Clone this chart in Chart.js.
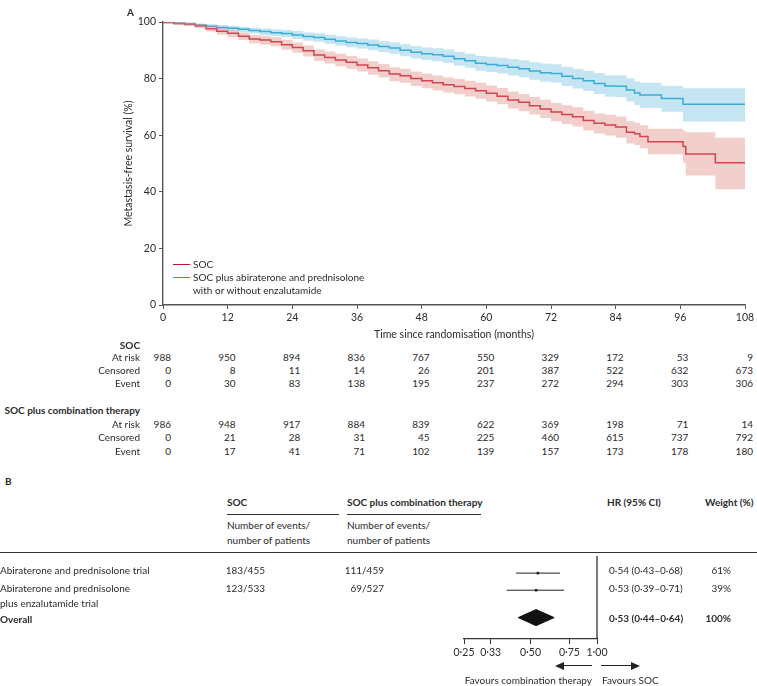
<!DOCTYPE html>
<html>
<head>
<meta charset="utf-8">
<script src="https://cdn.jsdelivr.net/npm/chart.js@4.4.1/dist/chart.umd.min.js"></script>
<style>
  body { margin: 0; background: #fff; }
  #wrap { position: relative; width: 757px; height: 686px; font-family: Lato, sans-serif; font-size: 10px; color: #2b2b2b; }
  #wrap canvas { position: absolute; left: 0; }
  .t { position: absolute; white-space: nowrap; line-height: 1; }
  .b { font-weight: bold; }
  .rule { position: absolute; height: 0; border-top: 1.2px solid #333; }
</style>
</head>
<body>
<div id="wrap">
  <canvas id="km" width="757" height="345" style="top:0"></canvas>
  <canvas id="forest" width="757" height="112" style="top:552px"></canvas>
</div>
<script>
// ---- panel A data ----
var months = [0,2,4,6,8,10,12,14,16,18,20,22,24,26,28,30,32,34,36,38,40,42,44,46,48,50,52,54,56,58,60,62,64,66,68,70,72,74,76,78,80,82,84,86,87.5,88.5,90,92.5,96.5,97,102.5,104.5,108];
var socSurv = [100,99.8,99.5,99.2,98.6,97.6,96.7,96.0,95.0,94.0,93.6,93.0,92.0,91.0,89.8,88.3,87.5,86.6,85.8,84.8,83.8,82.8,81.6,81.0,80.0,79.2,78.5,77.8,77.2,76.5,75.7,74.8,73.8,72.4,71.6,70.4,69.3,68.2,67.3,66.5,65.2,64.2,63.6,62.9,61.0,60.5,59.5,57.7,57.7,56.0,53.4,50.3,50.3];
var socLow = [100,99.5,99.0,98.5,97.8,96.6,95.5,94.7,93.6,92.5,92.0,91.3,90.2,89.1,87.8,86.2,85.3,84.4,83.5,82.5,81.4,80.4,79.1,78.5,77.4,76.6,75.8,75.1,74.5,73.7,72.9,71.9,70.9,69.4,68.5,67.3,66.1,64.9,64.0,63.1,61.7,60.6,59.9,59.1,57.1,56.5,55.4,53.3,53.3,50.3,45.8,40.9,40.9];
var socHigh = [100,100,99.9,99.8,99.3,98.6,97.8,97.2,96.3,95.4,95.1,94.6,93.7,92.8,91.7,90.3,89.6,88.8,88.0,87.1,86.1,85.2,84.0,83.5,82.5,81.8,81.1,80.4,79.9,79.2,78.5,77.6,76.7,75.4,74.6,73.5,72.5,71.4,70.6,69.9,68.6,67.7,67.2,66.6,64.9,64.4,63.5,62.3,62.3,61.6,61.0,59.1,59.1];
var comboSurv = [100,99.9,99.6,99.3,98.9,98.5,98.1,97.8,97.4,97.0,96.6,96.2,95.9,95.4,94.9,94.5,93.9,93.3,92.8,92.4,91.9,91.3,90.8,90.0,89.3,88.8,88.4,87.9,87.0,86.3,85.4,85.0,84.6,84.0,83.5,82.7,82.1,81.8,80.8,80.0,79.2,78.3,77.4,77.3,76.0,74.9,74.2,74.2,73.0,70.9,70.9,70.9,70.9];
var comboLow = [100,99.7,99.2,98.8,98.3,97.8,97.3,96.9,96.4,95.9,95.4,95.0,94.6,94.0,93.4,93.0,92.3,91.6,91.1,90.6,90.0,89.4,88.8,87.9,87.1,86.6,86.1,85.5,84.5,83.8,82.8,82.3,81.8,81.1,80.5,79.6,78.9,78.5,77.4,76.5,75.6,74.6,73.6,73.4,71.9,70.7,69.6,69.6,68.3,64.8,64.8,64.8,64.8];
var comboHigh = [100,100,100,99.8,99.5,99.2,98.9,98.6,98.3,98.0,97.7,97.4,97.2,96.8,96.3,96.0,95.5,95.0,94.5,94.2,93.8,93.2,92.8,92.1,91.5,91.0,90.7,90.3,89.5,88.8,88.0,87.7,87.4,86.9,86.5,85.8,85.3,85.1,84.2,83.5,82.8,82.0,81.2,81.2,80.1,79.1,78.5,78.5,77.5,76.6,76.6,76.6,76.6];

// risk table
var riskTimes = [0,12,24,36,48,60,72,84,96,108];
var socAtRisk = [988,950,894,836,767,550,329,172,53,9];
var socCensored = [0,8,11,14,26,201,387,522,632,673];
var socEvent = [0,30,83,138,195,237,272,294,303,306];
var comboAtRisk = [986,948,917,884,839,622,369,198,71,14];
var comboCensored = [0,21,28,31,45,225,460,615,737,792];
var comboEvent = [0,17,41,71,102,139,157,173,178,180];

// ---- panel B data ----
var trials = ['Abiraterone and prednisolone trial', 'Abiraterone and prednisolone\nplus enzalutamide trial'];
var socEvents = ['183/455', '123/533'];
var comboEvents = ['111/459', '69/527'];
var hr = [0.54, 0.53];
var hrLow = [0.43, 0.39];
var hrHigh = [0.68, 0.71];
var weights = ['61%', '39%'];
var overall = { hr: 0.53, low: 0.44, high: 0.64 };
var hrTicks = [0.25, 0.33, 0.5, 0.75, 1];
var rowPos = [1, 2, 3.6];

var red = '#c4122f';
var blue = '#17a2d3';
var axisColor = '#555';

Chart.defaults.font.family = 'Lato, sans-serif';
Chart.defaults.font.size = 10.5;
Chart.defaults.color = '#2b2b2b';

var wrap = document.getElementById('wrap');

function put(text, x, y, align, cls) {
  var d = document.createElement('div');
  d.className = 't' + (cls ? ' ' + cls : '');
  d.textContent = text;
  d.style.left = x + 'px';
  d.style.top = y + 'px';
  var tx = align === 'right' ? '-100%' : (align === 'center' ? '-50%' : '0');
  d.style.transform = 'translate(' + tx + ',-50%)';
  wrap.appendChild(d);
  return d;
}

function rule(x1, x2, y) {
  var d = document.createElement('div');
  d.className = 'rule';
  d.style.left = x1 + 'px';
  d.style.width = (x2 - x1) + 'px';
  d.style.top = y + 'px';
  wrap.appendChild(d);
}

function pts(ys) {
  return months.map(function(m, i) { return { x: m, y: ys[i] }; });
}

var kmChart = new Chart(document.getElementById('km'), {
  type: 'line',
  data: {
    datasets: [
      { data: pts(socHigh), fill: '+1', backgroundColor: 'rgba(226,140,130,0.42)', borderWidth: 0, pointRadius: 0, stepped: 'after' },
      { data: pts(socLow), fill: false, borderWidth: 0, pointRadius: 0, stepped: 'after' },
      { data: pts(comboHigh), fill: '+1', backgroundColor: 'rgba(110,190,225,0.4)', borderWidth: 0, pointRadius: 0, stepped: 'after' },
      { data: pts(comboLow), fill: false, borderWidth: 0, pointRadius: 0, stepped: 'after' },
      { data: pts(socSurv), borderColor: red, borderWidth: 1.5, pointRadius: 0, stepped: 'after', fill: false },
      { data: pts(comboSurv), borderColor: blue, borderWidth: 1.5, pointRadius: 0, stepped: 'after', fill: false }
    ]
  },
  options: {
    responsive: false,
    animation: false,
    layout: { padding: { left: 122, right: 12, top: 22, bottom: 0 } },
    plugins: { legend: { display: false }, tooltip: { enabled: false } },
    scales: {
      x: {
        type: 'linear', min: 0, max: 108,
        ticks: { stepSize: 12, padding: 2 },
        grid: { drawOnChartArea: false, tickLength: 4, color: axisColor },
        border: { color: axisColor, width: 1.4 },
        title: { display: true, text: 'Time since randomisation (months)', padding: { top: 2, bottom: 4 } },
        afterFit: function(s) { s.height = 40; }
      },
      y: {
        min: 0, max: 100,
        ticks: { stepSize: 20, padding: 3 },
        grid: { drawOnChartArea: false, tickLength: 4, color: axisColor },
        border: { color: axisColor, width: 1.4 },
        title: { display: true, text: 'Metastasis-free survival (%)', padding: { top: 0, bottom: 2 } },
        afterFit: function(s) { s.width = 41; }
      }
    }
  }
});

// panel labels and legend
put('A', 127, 12, 'left', 'b');
var lg = [[red, 'SOC', 264], [blue, 'SOC plus abiraterone and prednisolone', 277]];
lg.forEach(function(l) {
  var s = document.createElement('div');
  s.style.cssText = 'position:absolute;left:173px;width:17px;height:0;border-top:1.5px solid ' + l[0] + ';top:' + l[2] + 'px';
  wrap.appendChild(s);
  put(l[1], 193, l[2], 'left');
});
put('with or without enzalutamide', 193, 290, 'left');

// risk table under the x axis
var xs = kmChart.scales.x;
function riskRow(label, vals, y) {
  put(label, 140, y, 'right');
  vals.forEach(function(v, i) {
    put(String(v), xs.getPixelForValue(riskTimes[i]) + 8, y, 'right');
  });
}
put('SOC', 140, 345, 'right', 'b');
riskRow('At risk', socAtRisk, 357);
riskRow('Censored', socCensored, 370);
riskRow('Event', socEvent, 383);
put('SOC plus combination therapy', 140, 410, 'right', 'b');
riskRow('At risk', comboAtRisk, 424);
riskRow('Censored', comboCensored, 437);
riskRow('Event', comboEvent, 451);

// panel B table
put('B', 5, 481, 'left', 'b');
put('SOC', 227, 502, 'left', 'b');
rule(227, 339, 514);
put('Number of events/', 227, 525, 'left');
put('number of patients', 227, 540, 'left');
put('SOC plus combination therapy', 347, 502, 'left', 'b');
rule(347, 481, 514);
put('Number of events/', 347, 525, 'left');
put('number of patients', 347, 540, 'left');
put('HR (95% CI)', 607, 502, 'left', 'b');
put('Weight (%)', 705, 502, 'left', 'b');
rule(0, 757, 552);

function fmt(v) { return v.toFixed(2).replace('.', '\u00b7'); }

var rowY = [570, 588];
trials.forEach(function(name, i) {
  var lines = name.split('\n');
  lines.forEach(function(ln, j) { put(ln, 0, rowY[i] + j * 14.5, 'left'); });
  put(socEvents[i], 265, rowY[i], 'right');
  put(comboEvents[i], 384, rowY[i], 'right');
  put(fmt(hr[i]) + ' (' + fmt(hrLow[i]) + '\u2013' + fmt(hrHigh[i]) + ')', 609, rowY[i], 'left');
  put(weights[i], 731, rowY[i], 'right');
});
put('Overall', 0, 619, 'left', 'b');
put(fmt(overall.hr) + ' (' + fmt(overall.low) + '\u2013' + fmt(overall.high) + ')', 609, 618, 'left', 'b');
put('100%', 731, 618, 'right', 'b');

// forest plot
var yMax = 4.85;
var fds = [];
hr.forEach(function(h, i) {
  fds.push({ data: [{ x: hrLow[i], y: rowPos[i] }, { x: hrHigh[i], y: rowPos[i] }], borderColor: '#222', borderWidth: 1, pointRadius: 0 });
  fds.push({ data: [{ x: h, y: rowPos[i] }], showLine: false, pointStyle: 'rect', pointRadius: 1.8, backgroundColor: '#222', borderColor: '#222', borderWidth: 0 });
});
var dh = 0.47;
fds.push({
  data: [{ x: overall.low, y: rowPos[2] }, { x: overall.hr, y: rowPos[2] - dh }, { x: overall.high, y: rowPos[2] }, { x: overall.hr, y: rowPos[2] + dh }, { x: overall.low, y: rowPos[2] }],
  fill: 'shape', backgroundColor: '#111', borderColor: '#111', borderWidth: 1, pointRadius: 0
});
fds.push({ data: [{ x: 1, y: 0 }, { x: 1, y: yMax }], borderColor: '#222', borderWidth: 1.2, pointRadius: 0, clip: false });

new Chart(document.getElementById('forest'), {
  type: 'line',
  data: { datasets: fds },
  options: {
    responsive: false,
    animation: false,
    layout: { padding: { left: 464, right: 160, top: 0, bottom: 0 } },
    plugins: { legend: { display: false }, tooltip: { enabled: false } },
    scales: {
      x: {
        type: 'logarithmic', min: 0.25, max: 1,
        afterBuildTicks: function(s) { s.ticks = hrTicks.map(function(v) { return { value: v }; }); },
        ticks: { callback: function(v) { return fmt(v); }, padding: 2, autoSkip: false, maxRotation: 0 },
        grid: { drawOnChartArea: false, tickLength: 5, color: '#333' },
        border: { color: '#333', width: 1.2 },
        afterFit: function(s) { s.height = 25; }
      },
      y: { display: false, min: 0, max: yMax, reverse: true }
    }
  }
});

// favours arrows
function arrow(x1, x2, y) {
  var dir = x2 > x1 ? 1 : -1;
  var head = 9;
  var s = document.createElement('div');
  s.style.cssText = 'position:absolute;height:0;border-top:1.4px solid #222;top:' + (y - 0.7) + 'px;left:' + (dir > 0 ? x1 : x2 + head) + 'px;width:' + (Math.abs(x2 - x1) - head) + 'px';
  wrap.appendChild(s);
  var h = document.createElement('div');
  h.style.cssText = 'position:absolute;width:0;height:0;top:' + (y - 4) + 'px;left:' + (dir > 0 ? x2 - head : x2) + 'px;border-top:4px solid transparent;border-bottom:4px solid transparent;' + (dir > 0 ? 'border-left:' : 'border-right:') + head + 'px solid #222';
  wrap.appendChild(h);
}
arrow(592, 555, 666);
arrow(601, 640, 666);
put('Favours combination therapy', 592, 680, 'right');
put('Favours SOC', 602, 680, 'left');
</script>
</body>
</html>
